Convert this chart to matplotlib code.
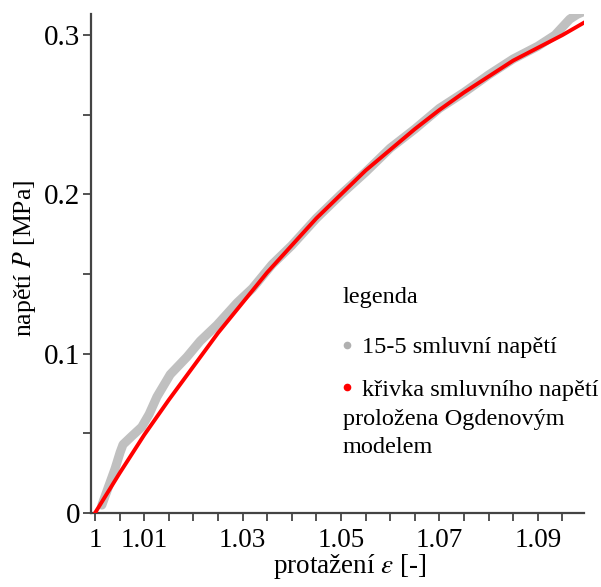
import matplotlib
matplotlib.use("Agg")
from matplotlib import pyplot as plt
from matplotlib.lines import Line2D

# --------- data -----------------------------------
# measured points (15-5 smluvni napeti)
strain_meas = [1.0014, 1.0041, 1.0051, 1.0057, 1.0074, 1.0095, 1.0110, 1.0126,
               1.0153, 1.0187, 1.0214, 1.0248, 1.0289, 1.0320, 1.0360, 1.0400,
               1.0450, 1.0500, 1.0550, 1.0600, 1.0650, 1.0700, 1.0750, 1.0800,
               1.0850, 1.0900, 1.0935, 1.0950, 1.0965, 1.0980, 1.0995]
stress_meas = [0.005, 0.028, 0.038, 0.043, 0.048, 0.054, 0.062, 0.073,
               0.087, 0.098, 0.108, 0.118, 0.132, 0.141, 0.156, 0.168,
               0.185, 0.200, 0.214, 0.229, 0.241, 0.254, 0.264, 0.275,
               0.285, 0.293, 0.300, 0.305, 0.310, 0.313, 0.315]

# Ogden fit curve
strain_fit = [1.000, 1.005, 1.010, 1.015, 1.020, 1.025, 1.030, 1.035, 1.040,
              1.045, 1.050, 1.055, 1.060, 1.065, 1.070, 1.075, 1.080, 1.085,
              1.090, 1.095, 1.0995]
stress_fit = [0.000, 0.025, 0.049, 0.071, 0.092, 0.113, 0.132, 0.151, 0.168,
              0.185, 0.200, 0.215, 0.228, 0.241, 0.253, 0.264, 0.274, 0.284,
              0.292, 0.300, 0.308]

xticks = [1.000 + 0.005 * i for i in range(20)]
xlabels_shown = {"1.000": "1", "1.010": "1.01", "1.030": "1.03", "1.050": "1.05",
                 "1.070": "1.07", "1.090": "1.09"}
yticks = [0.0, 0.05, 0.1, 0.15, 0.2, 0.25, 0.3]
ylabels = ["0", "", "0.1", "", "0.2", "", "0.3"]

plt.rcParams['font.family'] = ['Liberation Serif', 'DejaVu Serif']
plt.rcParams['mathtext.fontset'] = 'stix'

fig = plt.figure(figsize=(6.01, 5.87), dpi=100)
ax = fig.add_axes([0.1514, 0.126, 0.8203, 0.850])

ax.plot(strain_meas, stress_meas, color='#c0c0c0', lw=6.5, solid_capstyle='round',
        solid_joinstyle='round', zorder=2)
ax.plot(strain_fit, stress_fit, color='#ff0000', lw=2.8, zorder=3)

ax.set_xlim(0.99919, 1.0994)
ax.set_ylim(0, 0.3132)

ax.set_xticks(xticks)
ax.set_xticklabels([xlabels_shown.get("%.3f" % t, "") for t in xticks], fontsize=19.5)
ax.set_yticks(yticks)
ax.set_yticklabels(ylabels, fontsize=21)
ax.tick_params(direction='out', length=6, width=1.3, color='#444444')
ax.tick_params(axis='x', pad=5)
ax.tick_params(axis='y', pad=2)

for s in ['top', 'right']:
    ax.spines[s].set_visible(False)
for s in ['left', 'bottom']:
    ax.spines[s].set_color('#444444')
    ax.spines[s].set_linewidth(1.6)

ax.set_xlabel(r'protažení $\varepsilon$ [-]', fontsize=19.5)
ax.xaxis.set_label_coords(0.525, -0.078)
ax.set_ylabel(r'napětí $P$ [MPa]', fontsize=18.5)
ax.yaxis.set_label_coords(-0.108, 0.51)

# legend
ax.text(0.511, 0.431, 'legenda', fontsize=17.5, ha='left', va='center',
        transform=ax.transAxes)
handles = [Line2D([], [], ls='none', marker='o', ms=4.5, color='#b0b0b0'),
           Line2D([], [], ls='none', marker='o', ms=4.5, color='#ff0000')]
labels = ['15-5 smluvní napětí', 'křivka smluvního napětí']
ax.legend(handles, labels, loc='center left', bbox_to_anchor=(0.49, 0.290),
          frameon=False, fontsize=17.5, handlelength=0.4, handletextpad=0.4,
          labelspacing=0.85, borderaxespad=0)
ax.text(0.511, 0.208, 'proložena Ogdenovým\nmodelem', fontsize=17.5,
        ha='left', va='top', linespacing=1.4, transform=ax.transAxes)

fig.savefig('out.png', dpi=100)
